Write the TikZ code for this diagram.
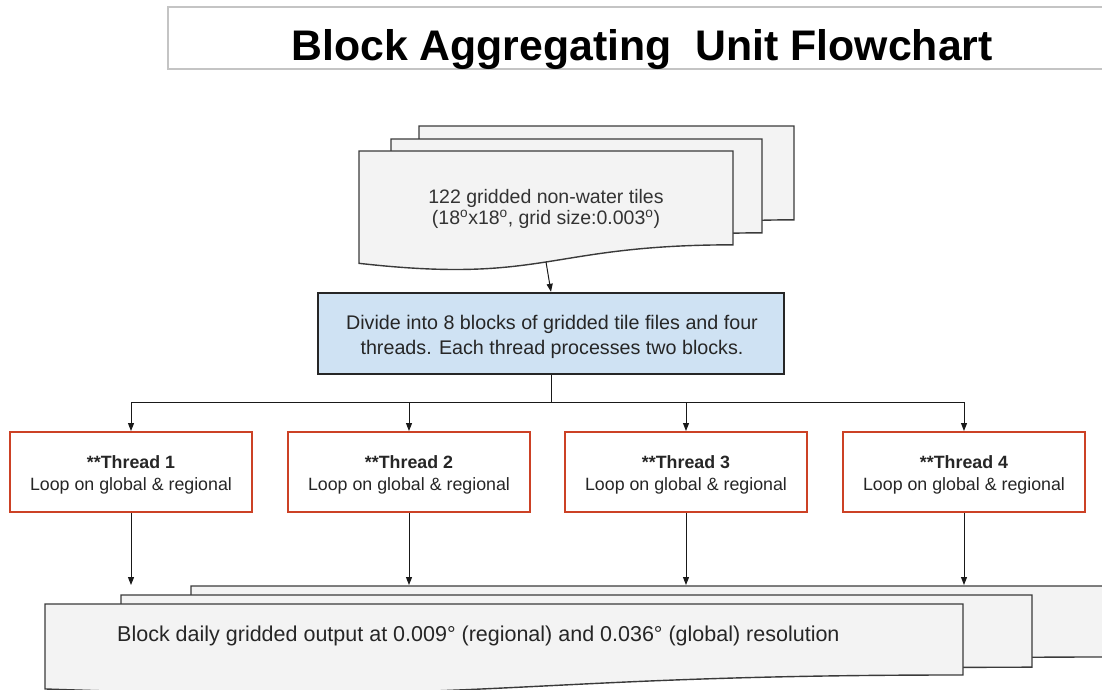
\documentclass[tikz,border=0pt]{standalone}
\usepackage{fontspec}
\setmainfont{Liberation Sans}
\usetikzlibrary{arrows.meta}

\definecolor{pagefill}{HTML}{F3F3F3}
\definecolor{pageline}{HTML}{3A3A3A}
\definecolor{divfill}{HTML}{CFE2F3}
\definecolor{threadred}{HTML}{CC4125}
\definecolor{titleline}{HTML}{C4C4C4}
\definecolor{bodytext}{HTML}{262626}

% A "document" sheet: top-left (#1,#2), width #3, frame height #4,
% wavy bottom edge; coordinate #5 marks the middle of the wave.
\newcommand\docsheet[5]{%
  \draw[page] (#1,#2) -- ({#1+#3},#2) -- ({#1+#3},{#2+0.802*#4})
    .. controls ({#1+0.5*#3},{#2+0.802*#4}) and ({#1+0.5*#3},{#2+1.14*#4}) ..
    ({#1},{#2+0.96*#4}) coordinate[pos=0.5] (#5) -- cycle;}

\begin{document}
\begin{tikzpicture}[x=1pt,y=-1pt,
  page/.style={draw=pageline, fill=pagefill, line width=1.4pt, line join=miter},
  titlebox/.style={draw=titleline, line width=1.3pt, minimum width=972pt, minimum height=62pt, inner sep=0pt},
  divbox/.style={draw=black!85, fill=divfill, line width=2.4pt, minimum width=466pt, minimum height=81pt, inner sep=0pt},
  threadbox/.style={draw=threadred, fill=white, line width=2pt, minimum width=242pt, minimum height=80pt, inner sep=0pt},
  threadtext/.style={align=center, inner sep=0pt, text=bodytext, font=\fontsize{17.8}{22}\selectfont},
  link/.style={draw=black!90, line width=1pt},
  arrow/.style={link, -{Triangle[length=8pt,width=6pt]}},
]
\useasboundingbox (0,0) rectangle (1102,689);
\clip (0,0) rectangle (1102,689);

% heading
\node[titlebox] (title) at (654,38) {};
\node[anchor=base, inner sep=0pt, font=\fontsize{42.8}{48}\selectfont\bfseries] (titletext) at (642,60)
  {Block Aggregating\ \ Unit Flowchart};

% input tiles (stack of documents)
\docsheet{419}{126}{375}{117}{db3}
\docsheet{391}{139}{371}{117}{db2}
\docsheet{359}{151}{374}{117}{db1}
\node[align=center, inner sep=0pt, text=black!80, font=\fontsize{19.5}{21}\selectfont] (tiles) at (546,209)
  {122 gridded non-water tiles\\(18\textsuperscript{o}x18\textsuperscript{o}, grid size:0.003\textsuperscript{o})};

% splitting step
\node[divbox] (divide) at (551,333.5) {};
\node[align=center, inner sep=0pt, text=bodytext, font=\fontsize{19.7}{24.5}\selectfont] (dividetext) at (552,337)
  {Divide into 8 blocks of gridded tile files and four\\threads. Each thread processes two blocks.};
\draw[arrow] (db1) -- (divide.north);

% worker threads
\foreach \i/\x in {1/131,2/409,3/686,4/964} {
  \node[threadbox] (t\i) at (\x,472) {};
  \node[threadtext] (t\i text) at (\x,475) {\textbf{**Thread \i}\\Loop on global \& regional};
}

\coordinate (bus) at (551,402);
\draw[link] (divide.south) -- (bus);
\draw[link] (t1.north |- bus) -- (t4.north |- bus);
\foreach \t in {t1,t2,t3,t4}
  \draw[arrow] (\t.north |- bus) -- (\t.north);

% block outputs (stack of documents)
\docsheet{191}{586}{918}{88.5}{ob3}
\docsheet{121}{595}{911}{90}{ob2}
\docsheet{45}{604}{918}{88.5}{ob1}
\node[anchor=base west, inner sep=0pt, text=bodytext, font=\fontsize{21.5}{24}\selectfont] (outtext) at (117,641)
  {Block daily gridded output at 0.009° (regional) and 0.036° (global) resolution};

\foreach \t/\n in {t1/o1,t2/o2,t3/o3,t4/o4} {
  \coordinate (\n) at (\t.south |- 0,585);
  \draw[arrow] (\t.south) -- (\n);
}
\end{tikzpicture}
\end{document}
